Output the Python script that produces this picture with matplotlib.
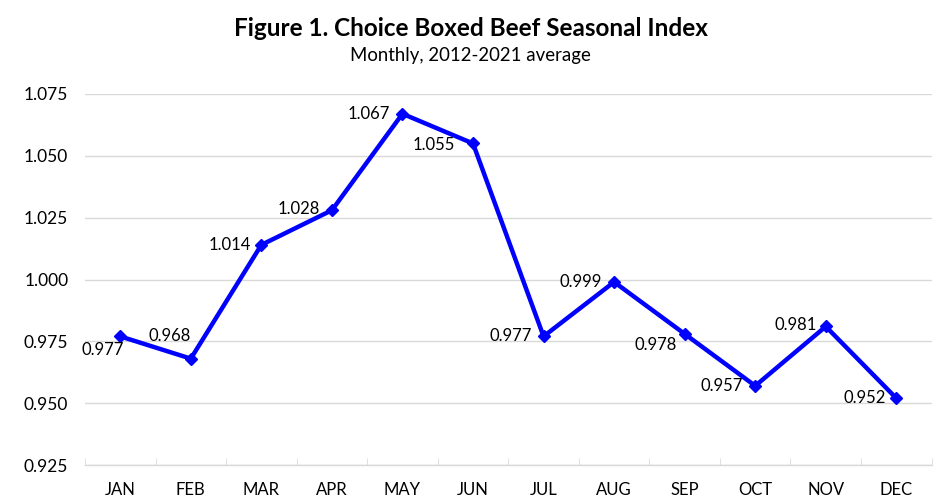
import matplotlib.pyplot as plt
from matplotlib.ticker import MultipleLocator, FixedLocator

plt.rcParams['font.family'] = ['Lato', 'DejaVu Sans']

# Monthly seasonal index values
months = ["JAN", "FEB", "MAR", "APR", "MAY", "JUN", "JUL", "AUG", "SEP", "OCT", "NOV", "DEC"]
index_values = [0.977, 0.968, 1.014, 1.028, 1.067, 1.055, 0.977, 0.999, 0.978, 0.957, 0.981, 0.952]

# label offsets in points (dx, dy) for each data label
label_offsets = [(-13, -10), (-15, 16), (-23, 0), (-24, 1), (-24, 0), (-28, -1),
                 (-24, 0), (-24, 0), (-21, -8), (-24, 0), (-22, 1), (-23, 0)]

fig = plt.figure(figsize=(9.41, 5), dpi=100, facecolor='white')
ax = fig.add_axes([0.0903, 0.07, 0.8997, 0.742])

x = list(range(len(months)))
ax.plot(x, index_values, color='#0000FF', linewidth=3.2, marker='D', markersize=6,
        zorder=5)

for xi, v, (dx, dy) in zip(x, index_values, label_offsets):
    ax.annotate(f"{v:.3f}", (xi, v), xytext=(dx, dy), textcoords='offset points',
                ha='center', va='center', fontsize=12, color='black', zorder=6)

ax.set_xlim(-0.5, len(months) - 0.5)
ax.set_ylim(0.925, 1.075)
ax.yaxis.set_major_locator(MultipleLocator(0.025))
ax.yaxis.set_major_formatter(plt.FuncFormatter(lambda v, p: f"{v:.3f}"))
ax.set_xticks(x)
ax.set_xticklabels(months)
ax.xaxis.set_minor_locator(FixedLocator([i - 0.5 for i in range(len(months) + 1)]))

ax.grid(True, axis='y', color='#D9D9D9', linewidth=1)
ax.set_axisbelow(True)
for side in ['top', 'right', 'left']:
    ax.spines[side].set_visible(False)
ax.spines['bottom'].set_color('#D9D9D9')
ax.spines['bottom'].set_linewidth(1)

ax.tick_params(axis='y', length=0, labelsize=12.5, pad=12)
ax.tick_params(axis='x', which='major', length=0, labelsize=12, pad=12)
ax.tick_params(axis='x', which='minor', length=5, color='#D9D9D9', direction='in')

fig.text(0.5, 0.944, "Figure 1. Choice Boxed Beef Seasonal Index", ha='center', va='center',
         fontsize=17.5, fontweight='bold')
fig.text(0.5, 0.888, "Monthly, 2012-2021 average", ha='center', va='center', fontsize=13.4)

fig.savefig("out.png", dpi=100)
